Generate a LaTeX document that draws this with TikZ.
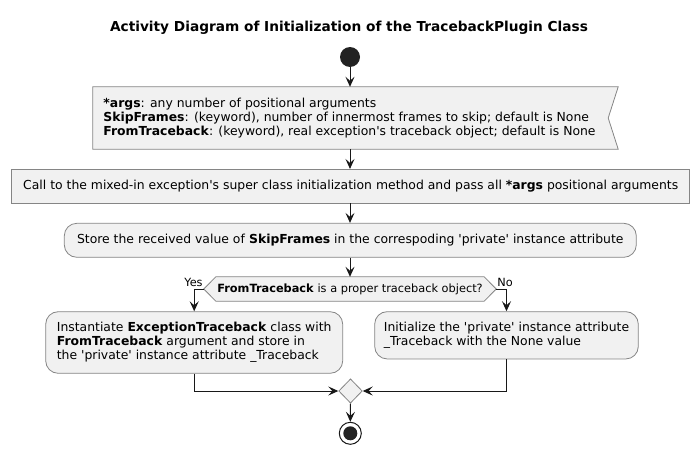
\documentclass[tikz,border=0pt]{standalone}
\usepackage{fontspec}
\setmainfont{DejaVu Sans}
\usetikzlibrary{arrows.meta,shapes.geometric,backgrounds}
\definecolor{bfill}{HTML}{F1F1F1}
\definecolor{bline}{HTML}{181818}
\definecolor{bord}{HTML}{858585}
\definecolor{dark}{HTML}{222222}
\newcommand{\sq}{\textquotesingle}
\begin{document}
\begin{tikzpicture}[x=1pt,y=-1pt,
  txt/.style={font=\fontsize{12.4}{13.8}\selectfont, align=left, text=black},
  box/.style={txt, draw=bord, line width=0.8pt, fill=bfill, inner sep=0pt},
  shapeline/.style={draw=bord, line width=0.8pt, fill=bfill},
  arr/.style={draw=bline, line width=1pt, -{Stealth[length=10pt,width=9pt,inset=4pt]}},
  lbl/.style={font=\fontsize{11.3}{13}\selectfont, inner sep=0pt, text=black}]
\useasboundingbox (0,0) rectangle (699,455);

\node[font=\bfseries\fontsize{13.7}{16}\selectfont] (title) at (349,28) {Activity Diagram of Initialization of the TracebackPlugin Class};

\node[circle, fill=dark, minimum size=20pt, inner sep=0pt] (s) at (350,57) {};

\node[minimum width=525pt, minimum height=62pt, inner sep=0pt] (b1) at (355.5,118) {};
\node[txt, inner sep=0pt] (b1t) at (349.5,118) {\textbf{*args}: any number of positional arguments\\
\textbf{SkipFrames}: (keyword), number of innermost frames to skip; default is None\\
\textbf{FromTraceback}: (keyword), real exception\sq s traceback object; default is None};

\node[box, minimum width=678pt, minimum height=33.7pt] (b2) at (350.7,186.2) {Call to the mixed-in exception\sq s super class initialization method and pass all \textbf{*args} positional arguments};

\node[box, rounded corners=12.5pt, minimum width=572pt, minimum height=34pt] (b3) at (350.3,240.3) {Store the received value of \textbf{SkipFrames} in the correspoding \sq private\sq\ instance attribute};

\node[minimum width=292pt, minimum height=24pt, inner sep=0pt, font=\fontsize{11.35}{13}\selectfont] (d1) at (350,289) {\textbf{FromTraceback} is a proper traceback object?};

\node[box, rounded corners=12.5pt, minimum width=297pt, minimum height=61.6pt] (b4) at (194.2,342.5) {Instantiate \textbf{ExceptionTraceback} class with\\
\textbf{FromTraceback} argument and store in\\
the \sq private\sq\ instance attribute \_Traceback};

\node[box, rounded corners=12.5pt, minimum width=263.6pt, minimum height=47.3pt] (b5) at (506.5,335.3) {Initialize the \sq private\sq\ instance attribute\\
\_Traceback with the None value};

\node[diamond, shapeline, minimum width=23.6pt, minimum height=24.3pt, inner sep=0pt] (m) at (350.5,391) {};

\node[circle, draw=bline, line width=1pt, fill=white, minimum size=22pt, inner sep=0pt] (e) at (350.3,433.3) {};
\fill[dark] (e.center) circle (7);

\begin{pgfonlayer}{background}
\path[shapeline] (b1.north west) -- (b1.north east) -- ([xshift=-10pt]b1.east) -- (b1.south east) -- (b1.south west) -- cycle;
\path[shapeline] (d1.west) -- ([xshift=12pt]d1.north west) -- ([xshift=-12pt]d1.north east) -- (d1.east) -- ([xshift=-12pt]d1.south east) -- ([xshift=12pt]d1.south west) -- cycle;
\end{pgfonlayer}

\node[lbl, anchor=base east] (yes) at ([xshift=-1pt,yshift=2.7pt]d1.west) {Yes};
\node[lbl, anchor=base west] (no) at ([xshift=1pt,yshift=2.7pt]d1.east) {No};

\draw[arr] (s.south) -- (s |- b1.north);
\draw[arr] (s |- b1.south) -- (s |- b2.north);
\draw[arr] (s |- b2.south) -- (s |- b3.north);
\draw[arr] (s |- b3.south) -- (s |- d1.north);
\draw[arr] (d1.west) -| (b4.north);
\draw[arr] (d1.east) -| (b5.north);
\draw[arr] (b4.south) |- (m.west);
\draw[arr] (b5.south) |- (m.east);
\draw[arr] (m.south) -- (e.north);
\end{tikzpicture}
\end{document}
